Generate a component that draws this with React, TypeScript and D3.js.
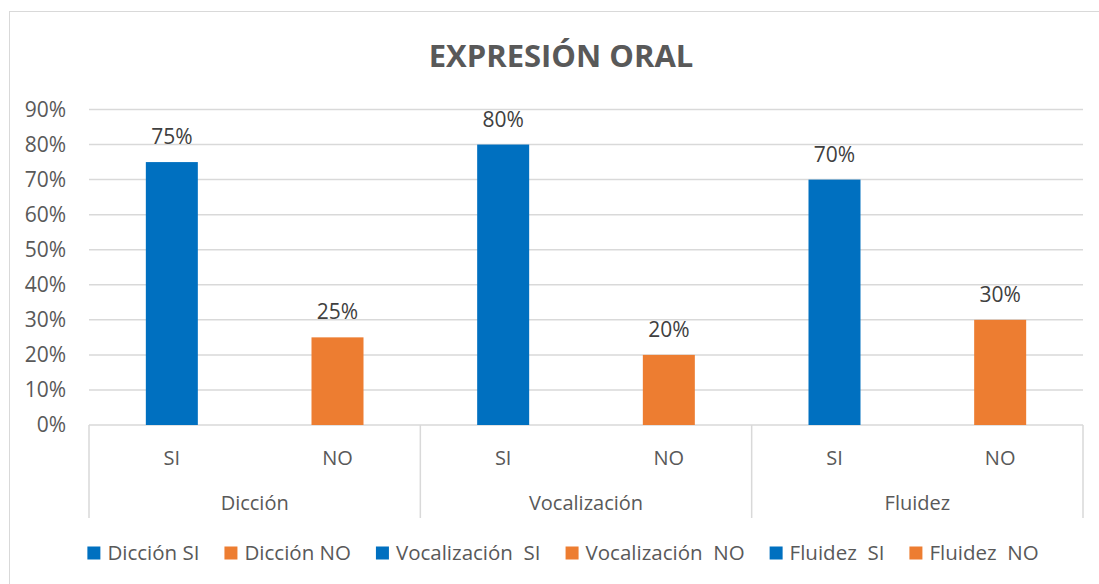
import React, { useEffect, useRef } from 'react';
import * as d3 from 'd3';

const groups = ['Dicción', 'Vocalización', 'Fluidez'];
const answers = ['SI', 'NO'];
const siValues = [0.75, 0.8, 0.7];
const noValues = [0.25, 0.2, 0.3];
const yTicks = [0, 0.1, 0.2, 0.3, 0.4, 0.5, 0.6, 0.7, 0.8, 0.9];
const legendLabels = ['Dicción SI', 'Dicción NO', 'Vocalización  SI', 'Vocalización  NO', 'Fluidez  SI', 'Fluidez  NO'];

const BLUE = '#0070C0';
const ORANGE = '#ED7D31';
const TEXT = '#595959';
const GRID = '#D9D9D9';
const FONT = '"Open Sans", "Noto Sans", sans-serif';

const App = () => {
  const ref = useRef<SVGSVGElement>(null);

  useEffect(() => {
    const width = 1099;
    const height = 584;
    const svg = d3.select(ref.current);
    svg.selectAll('*').remove();
    svg.attr('width', width).attr('height', height);

    // chart frame
    svg.append('rect')
      .attr('x', 9.5).attr('y', 11.5)
      .attr('width', 1120).attr('height', 600)
      .attr('fill', 'white').attr('stroke', GRID);

    const plotLeft = 89;
    const plotRight = 1083;
    const y = d3.scaleLinear().domain([0, 0.9]).range([425, 109.5]);
    const gx = d3.scaleBand().domain(groups).range([plotLeft, plotRight]);
    const cx = d3.scaleBand().domain(answers).range([0, gx.bandwidth()]);
    const barW = 52;

    svg.append('text')
      .attr('x', 561).attr('y', 67)
      .attr('text-anchor', 'middle')
      .style('font-family', FONT).style('font-weight', 'bold')
      .style('font-size', '31px').attr('fill', TEXT)
      .text('EXPRESIÓN ORAL');

    // gridlines + y labels
    yTicks.forEach((t) => {
      if (t > 0) {
        svg.append('line')
          .attr('x1', plotLeft).attr('x2', plotRight)
          .attr('y1', y(t)).attr('y2', y(t))
          .attr('stroke', GRID).attr('stroke-width', 1.5);
      }
      svg.append('text')
        .attr('x', 66).attr('y', y(t)).attr('dy', '0.35em')
        .attr('text-anchor', 'end')
        .style('font-family', FONT).style('font-size', '21px')
        .attr('fill', TEXT)
        .text(d3.format('.0%')(t));
    });

    // category axis
    svg.append('line')
      .attr('x1', plotLeft).attr('x2', plotRight)
      .attr('y1', y(0)).attr('y2', y(0))
      .attr('stroke', GRID).attr('stroke-width', 1.5);
    [...groups.map((g) => gx(g) as number), plotRight].forEach((xv) => {
      svg.append('line')
        .attr('x1', xv).attr('x2', xv)
        .attr('y1', y(0)).attr('y2', 518)
        .attr('stroke', GRID).attr('stroke-width', 1.5);
    });

    groups.forEach((g, i) => {
      const g0 = gx(g) as number;
      const vals = [siValues[i], noValues[i]];
      answers.forEach((a, j) => {
        const c = g0 + (cx(a) as number) + cx.bandwidth() / 2;
        svg.append('rect')
          .attr('x', c - barW / 2).attr('y', y(vals[j]))
          .attr('width', barW).attr('height', y(0) - y(vals[j]))
          .attr('fill', j === 0 ? BLUE : ORANGE);
        svg.append('text')
          .attr('x', c).attr('y', y(vals[j]) - 18)
          .attr('text-anchor', 'middle')
          .style('font-family', FONT).style('font-size', '21px')
          .attr('fill', '#404040')
          .text(d3.format('.0%')(vals[j]));
        svg.append('text')
          .attr('x', c).attr('y', 465)
          .attr('text-anchor', 'middle')
          .style('font-family', FONT).style('font-size', '20px')
          .attr('fill', TEXT)
          .text(a);
      });
      svg.append('text')
        .attr('x', g0 + gx.bandwidth() / 2).attr('y', 510)
        .attr('text-anchor', 'middle')
        .style('font-family', FONT).style('font-size', '20px')
        .attr('fill', TEXT)
        .text(g);
    });

    // legend
    const legend = svg.append('g');
    let lx = 0;
    legendLabels.forEach((lab, i) => {
      const item = legend.append('g').attr('transform', `translate(${lx},0)`);
      item.append('rect')
        .attr('x', 0).attr('y', -6.5).attr('width', 13).attr('height', 13)
        .attr('fill', i % 2 === 0 ? BLUE : ORANGE);
      const t = item.append('text')
        .attr('x', 20).attr('dy', '0.35em')
        .attr('xml:space', 'preserve')
        .style('white-space', 'pre')
        .style('font-family', FONT).style('font-size', '20.5px')
        .attr('fill', TEXT)
        .text(lab);
      const w = (t.node() as SVGTextElement).getComputedTextLength();
      lx += 20 + w + 25;
    });
    const total = lx - 25;
    legend.attr('transform', `translate(${563 - total / 2},553)`);
  }, []);

  return <svg ref={ref} style={{ position: 'absolute', left: 0, top: 0 }} />;
};

export default App;
